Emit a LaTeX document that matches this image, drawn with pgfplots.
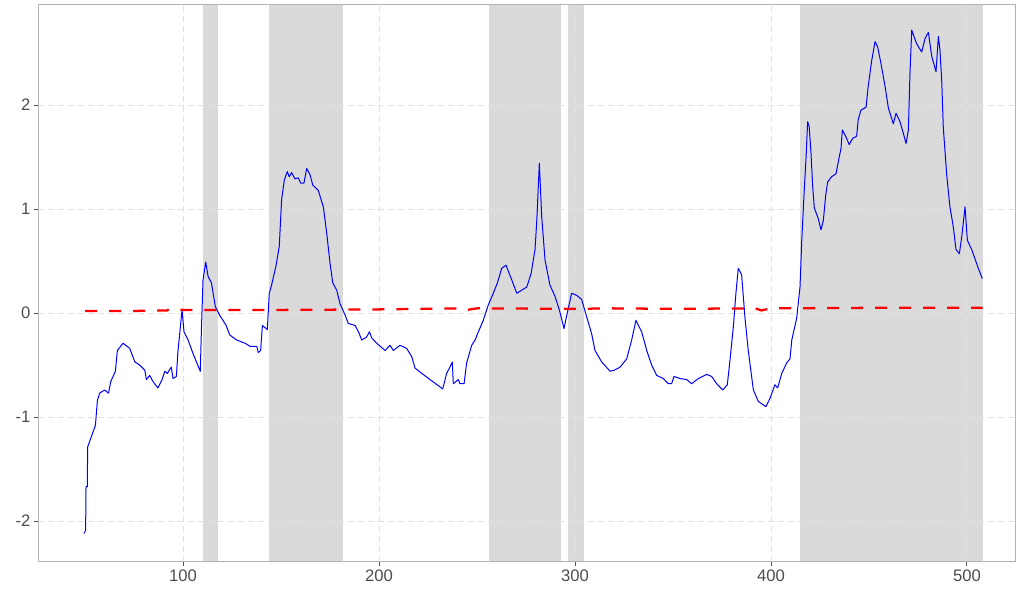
\documentclass[border=0pt]{standalone}
\usepackage{pgfplots}
\pgfplotsset{compat=1.18}
\usepackage{fontspec}
\setmainfont{Liberation Sans}
\usetikzlibrary{calc}
\definecolor{bandgray}{RGB}{218,218,218}
\definecolor{gridgray}{RGB}{225,225,225}
\definecolor{framegray}{RGB}{179,179,179}
\definecolor{tickgray}{RGB}{85,85,85}
\definecolor{labgray}{RGB}{77,77,77}
\begin{document}
\begin{tikzpicture}
\begin{axis}[
  set layers,
  scale only axis,
  width=732.75pt, height=417.75pt,
  xmin=26, xmax=524.5, ymin=-2.394, ymax=2.962,
  xtick={100,200,300,400,500}, xticklabels={100,200,300,400,500},
  ytick={-2,-1,0,1,2}, yticklabels={-2,-1,0,1,2},
  tick align=outside, tick pos=left,
  major tick length=3pt,
  tick style={tickgray, line width=0.75pt},
  axis line style={framegray, line width=0.75pt},
  grid=major,
  major grid style={gridgray, line width=0.75pt, dash pattern=on 4.5pt off 3pt},
  ticklabel style={font=\fontsize{12.5}{14}\selectfont, text=labgray, inner sep=2pt},
  xticklabel style={yshift=-1pt},
  yticklabel style={xshift=-0.5pt},
]
\addplot[on layer=axis background, fill=bandgray, draw=none] coordinates {(110.2,-2.394)(110.2,2.962)(117.9,2.962)(117.9,-2.394)} -- cycle;
\addplot[on layer=axis background, fill=bandgray, draw=none] coordinates {(143.9,-2.394)(143.9,2.962)(181.6,2.962)(181.6,-2.394)} -- cycle;
\addplot[on layer=axis background, fill=bandgray, draw=none] coordinates {(256.1,-2.394)(256.1,2.962)(292.9,2.962)(292.9,-2.394)} -- cycle;
\addplot[on layer=axis background, fill=bandgray, draw=none] coordinates {(296.4,-2.394)(296.4,2.962)(304.6,2.962)(304.6,-2.394)} -- cycle;
\addplot[on layer=axis background, fill=bandgray, draw=none] coordinates {(414.8,-2.394)(414.8,2.962)(508.2,2.962)(508.2,-2.394)} -- cycle;
\addplot[blue, line width=0.75pt, line join=round] coordinates {
(49.5,-2.12)(50.3,-2.09)(50.5,-1.67)(51.2,-1.67)(51.3,-1.29)(53.2,-1.19)(55.3,-1.08)(56.3,-0.84)(57.5,-0.77)(60,-0.74)
(62,-0.77)(63.1,-0.66)(65.5,-0.56)(66.5,-0.36)(69.4,-0.29)(72.8,-0.34)(75.4,-0.47)(77.9,-0.50)(80.5,-0.55)(81.3,-0.64)
(83,-0.60)(84.7,-0.66)(87.2,-0.72)(89.3,-0.64)(90.7,-0.56)(92,-0.58)(94,-0.52)(94.9,-0.63)(96.6,-0.61)(97.4,-0.37)
(99.5,0.03)(100.5,-0.18)(102.6,-0.26)(105.1,-0.39)(108.8,-0.56)(109.4,-0.15)(110.2,0.32)(111.6,0.49)(112.8,0.35)(114.5,0.29)
(116.5,0.06)(118.7,-0.02)(122,-0.12)(123.8,-0.21)(127.4,-0.26)(131.6,-0.29)(134.2,-0.32)(137.6,-0.32)(138.4,-0.38)(139.6,-0.36)
(140.5,-0.12)(141.8,-0.14)(143,-0.16)(144,0.19)(145.2,0.27)(147.4,0.45)(149.1,0.64)(150.3,1.09)(151.7,1.28)(153.2,1.36)
(154.2,1.31)(155.4,1.35)(157.1,1.29)(158.8,1.30)(160,1.25)(161.7,1.25)(163.1,1.39)(164.8,1.33)(166.2,1.23)(169,1.18)
(171.6,1.02)(173.3,0.77)(175,0.48)(176.4,0.29)(178.4,0.22)(180.1,0.09)(182.7,-0.02)(184.3,-0.10)(187.8,-0.12)(189.5,-0.18)
(191.2,-0.26)(193.7,-0.23)(195.1,-0.18)(196.3,-0.24)(198.8,-0.29)(203.1,-0.36)(205.6,-0.31)(207.3,-0.36)(210.7,-0.31)(214.1,-0.34)
(216.7,-0.42)(218.4,-0.53)(221.8,-0.58)(226,-0.64)(231.1,-0.71)(232.5,-0.73)(234.5,-0.58)(236.2,-0.52)(237.4,-0.47)(237.9,-0.68)
(240.5,-0.64)(241.3,-0.68)(243.4,-0.68)(244.7,-0.48)(247.3,-0.31)(249,-0.26)(250.7,-0.18)(253.2,-0.07)(255.8,0.08)(258.3,0.19)
(260.4,0.29)(262.6,0.43)(264.8,0.46)(267.7,0.32)(270.3,0.19)(272.8,0.22)(275.4,0.25)(277.6,0.38)(279.6,0.61)(280.5,0.89)
(281.8,1.44)(283,0.93)(284.7,0.51)(287.2,0.27)(289.8,0.16)(292,0.03)(294.4,-0.15)(295.8,-0.02)(298.3,0.19)(300.9,0.17)
(303.4,0.13)(306,-0.04)(308.5,-0.20)(310.2,-0.36)(313.6,-0.47)(317.9,-0.56)(320,-0.55)(323,-0.52)(326.4,-0.44)(328.9,-0.26)
(331.1,-0.07)(334,-0.18)(336.6,-0.36)(339.1,-0.50)(341.7,-0.60)(345.1,-0.63)(347.6,-0.68)(349.3,-0.68)(350.5,-0.61)(353.6,-0.63)
(357,-0.64)(359.5,-0.68)(362.9,-0.63)(367.2,-0.59)(369.7,-0.61)(372.3,-0.68)(375.4,-0.74)(377.7,-0.69)(379.1,-0.45)(380.8,-0.13)
(382.1,0.19)(383.3,0.43)(385,0.37)(386.7,-0.04)(388.4,-0.36)(391,-0.74)(393.5,-0.85)(397.4,-0.90)(399.5,-0.82)(402,-0.69)
(403.4,-0.72)(405.5,-0.58)(408,-0.48)(409.7,-0.44)(410.6,-0.26)(413.1,-0.05)(414.8,0.25)(415.7,0.70)(416.8,1.12)(417.9,1.50)
(418.7,1.84)(419.5,1.79)(420.4,1.54)(421.3,1.21)(422.1,1.01)(424.1,0.91)(425.5,0.80)(426.7,0.89)(427.9,1.13)(428.9,1.26)
(430.9,1.31)(433.2,1.34)(434.8,1.50)(435.7,1.58)(436.4,1.76)(438.1,1.70)(439.9,1.62)(441.7,1.68)(443.7,1.70)(444.5,1.86)
(445.9,1.95)(448.5,1.98)(449.6,2.18)(451.4,2.43)(453.1,2.61)(454.4,2.56)(456.1,2.40)(458.2,2.18)(459.9,1.97)(462.4,1.82)
(463.8,1.92)(465.8,1.84)(467.5,1.73)(468.9,1.63)(470.1,1.76)(470.9,2.30)(471.8,2.72)(474.3,2.59)(476.9,2.51)(478.6,2.64)
(480.3,2.70)(482,2.47)(484.2,2.32)(485.4,2.66)(486.2,2.53)(487.1,2.24)(487.9,1.79)(489.6,1.34)(491.3,1.02)(493,0.83)
(494.4,0.61)(496.1,0.57)(497.3,0.73)(499,1.02)(500.2,0.70)(502.4,0.61)(505.8,0.43)(507.8,0.33)
};
\addplot[red, line width=1.7pt, dash pattern=on 9pt off 9pt] coordinates {
(50,0.02)(75,0.02)(92,0.025)(93,0.04)(100,0.03)(150,0.03)(200,0.035)(244,0.045)(245,0.03)(250,0.045)(300,0.04)(318,0.045)(350,0.04)(392,0.045)(395,0.025)(400,0.045)(450,0.05)(508,0.05)
};
\end{axis}
\pgfresetboundingbox
\path ($(current axis.south west)+(-28.5pt,-20.25pt)$) rectangle ($(current axis.north east)+(2.25pt,3.75pt)$);
\end{tikzpicture}
\end{document}
